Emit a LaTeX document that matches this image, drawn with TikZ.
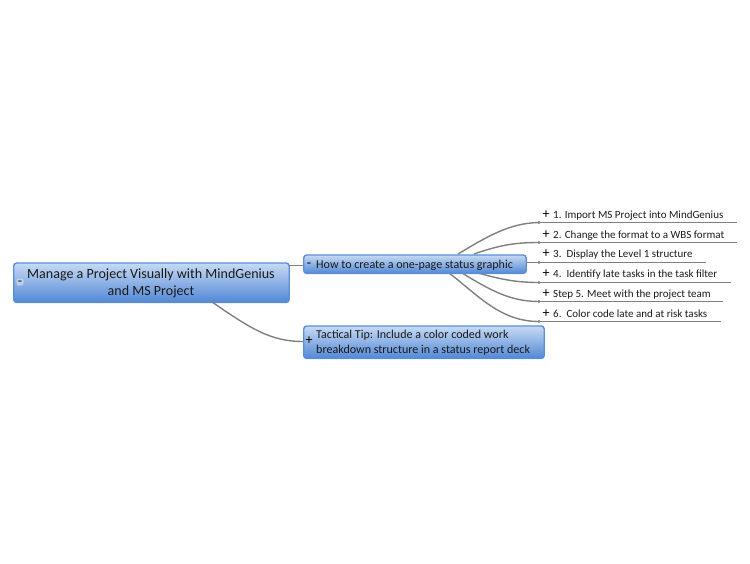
\documentclass[tikz,border=0pt]{standalone}
\usepackage{fontspec}
\setmainfont{Carlito}
\definecolor{edgeblue}{HTML}{5A8FD8}
\definecolor{topblue}{HTML}{C6DAF3}
\definecolor{botblue}{HTML}{5288D6}
\definecolor{wire}{HTML}{808080}
\definecolor{ink}{HTML}{1A1A1A}
\tikzset{
  topic/.style={draw=edgeblue,line width=1.4pt,rounded corners=3pt,top color=topblue,bottom color=botblue,inner sep=0pt,anchor=north west},
  txt/.style={text=ink,inner sep=0pt,anchor=base west,font=\fontsize{12.05}{14}\selectfont},
  link/.style={draw=wire,line width=1.4pt},
  under/.style={draw=wire,line width=1.4pt},
  sign/.style={text=black,inner sep=0pt,font=\fontsize{14}{14}\selectfont},
}
\begin{document}
\begin{tikzpicture}[x=1pt,y=-1pt]
\useasboundingbox (0,0) rectangle (750,563);
\coordinate (r2) at (289,265.5);
\coordinate (r3) at (212,302);
\coordinate (a1) at (539,222.5);\coordinate (e1) at (737,222.5);
\coordinate (a2) at (539,242.5);\coordinate (e2) at (737,242.5);
\coordinate (a3) at (539,262.5);\coordinate (e3) at (706,262.5);
\coordinate (a4) at (539,282.5);\coordinate (e4) at (731,282.5);
\coordinate (a5) at (539,301.5);\coordinate (e5) at (723,301.5);
\coordinate (a6) at (539,321.5);\coordinate (e6) at (721,321.5);
\coordinate (s1) at (458,254);
\coordinate (s2) at (474,254);
\coordinate (s3) at (526,262.5);
\coordinate (s4) at (478,273);
\coordinate (s5) at (462,273);
\coordinate (s6) at (449,273);
\draw[link] (s1) .. controls (488,236) and (510,223) .. (a1);
\draw[link] (s2) .. controls (500,245) and (515,242.5) .. (a2);
\draw[link] (s3) -- (a3);
\draw[link] (s4) .. controls (500,279) and (515,282.5) .. (a4);
\draw[link] (s5) .. controls (490,290) and (510,301.5) .. (a5);
\draw[link] (s6) .. controls (478,295) and (500,321.5) .. (a6);
\foreach \i in {1,...,6}{\draw[under] (a\i) -- (e\i); \fill[wire] (a\i) circle (1.6);}
\node[topic,minimum width=275.5pt,minimum height=39.5pt] (root) at (13,262.3) {};
\node[topic,minimum width=222.5pt,minimum height=18.5pt] (how) at (303,254.3) {};
\node[topic,minimum width=240.5pt,minimum height=32.5pt] (tip) at (303,325.3) {};
\draw[link] (r2) -- (how.west |- r2);
\draw[link] (r3) .. controls (250,328) and (270,341.5) .. (tip.west |- 0,341.5);
\node[text=ink,inner sep=0pt,align=center,font=\fontsize{14.05}{17}\selectfont] (roott) at (151,283.5) {Manage a Project Visually with MindGenius\\and MS Project};
\node[fill=white,opacity=.4,rounded corners=2pt,minimum width=7pt,minimum height=7pt,inner sep=0pt] (rootbtn) at (20,282) {};
\node[sign,text=ink] (rootsign) at (20,283) {-};
\node[sign] (howsign) at (309,265) {-};
\node[txt] (howt) at (316,268.5) {How to create a one-page status graphic};
\node[sign] (tipsign) at (309,341) {+};
\node[txt] (tipa) at (316,338.5) {Tactical Tip: Include a color coded work};
\node[txt] (tipb) at (316,353.5) {breakdown structure in a status report deck};
\foreach \n/\y/\t in {
 1/218.2/{1. Import MS Project into MindGenius},
 2/238.2/{2. Change the format to a WBS format},
 3/257.7/{3.\ \ Display the Level 1 structure},
 4/277.7/{4.\ \ Identify late tasks in the task filter},
 5/297.7/{Step 5. Meet with the project team},
 6/317.2/{6.\ \ Color code late and at risk tasks}}{
  \node[sign] (p\n) at (546,\y-3.6) {+};
  \node[txt,font=\fontsize{11}{13}\selectfont] (l\n) at (553,\y) {\t};
}
\end{tikzpicture}
\end{document}
